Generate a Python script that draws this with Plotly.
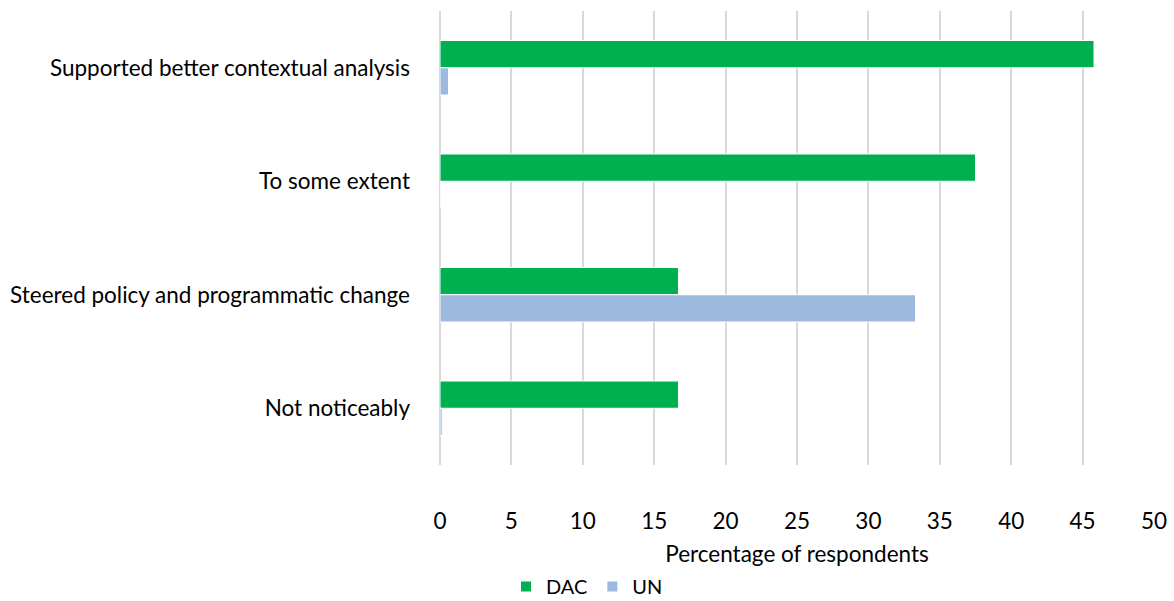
import plotly.graph_objects as go

categories = ["Supported better contextual analysis", "To some extent",
              "Steered policy and programmatic change", "Not noticeably"]
dac_values = [45.8, 37.5, 16.7, 16.7]
un_values = [0.6, 0.0, 33.3, 0.15]
tick_values = [0, 5, 10, 15, 20, 25, 30, 35, 40, 45, 50]

FONT = "Lato"
FS = 22.5

fig = go.Figure()
fig.add_trace(go.Bar(y=categories, x=dac_values, name="DAC", orientation="h",
                     marker=dict(color="#00B050", line=dict(color="white", width=1))))
fig.add_trace(go.Bar(y=categories, x=un_values, name="UN", orientation="h",
                     marker=dict(color="#9DB9DD", line=dict(color="white", width=1))))

fig.update_layout(
    width=1174, height=601,
    margin=dict(l=440, r=20, t=11, b=136),
    plot_bgcolor="white", paper_bgcolor="white",
    barmode="group", bargap=0.52, bargroupgap=0,
    font=dict(family=FONT, size=FS, color="#000000"),
    legend=dict(orientation="h", xref="container", yref="container",
                x=0.5, xanchor="center", y=0.024, yanchor="middle",
                font=dict(size=20), itemwidth=30, traceorder="normal",
                itemsizing="constant", tracegroupgap=0),
    xaxis=dict(range=[0, 50], tickvals=tick_values, showgrid=True,
               gridcolor="#D9D9D9", gridwidth=2, zeroline=True,
               zerolinecolor="#D9D9D9", zerolinewidth=2, showline=False,
               ticklabelstandoff=40, automargin=False,
               title=dict(text="Percentage of respondents", standoff=28,
                          font=dict(size=FS))),
    yaxis=dict(autorange="reversed", showgrid=False, showline=False,
               ticks="", ticklabelstandoff=29, automargin=False),
)

fig.write_html("out.html")
